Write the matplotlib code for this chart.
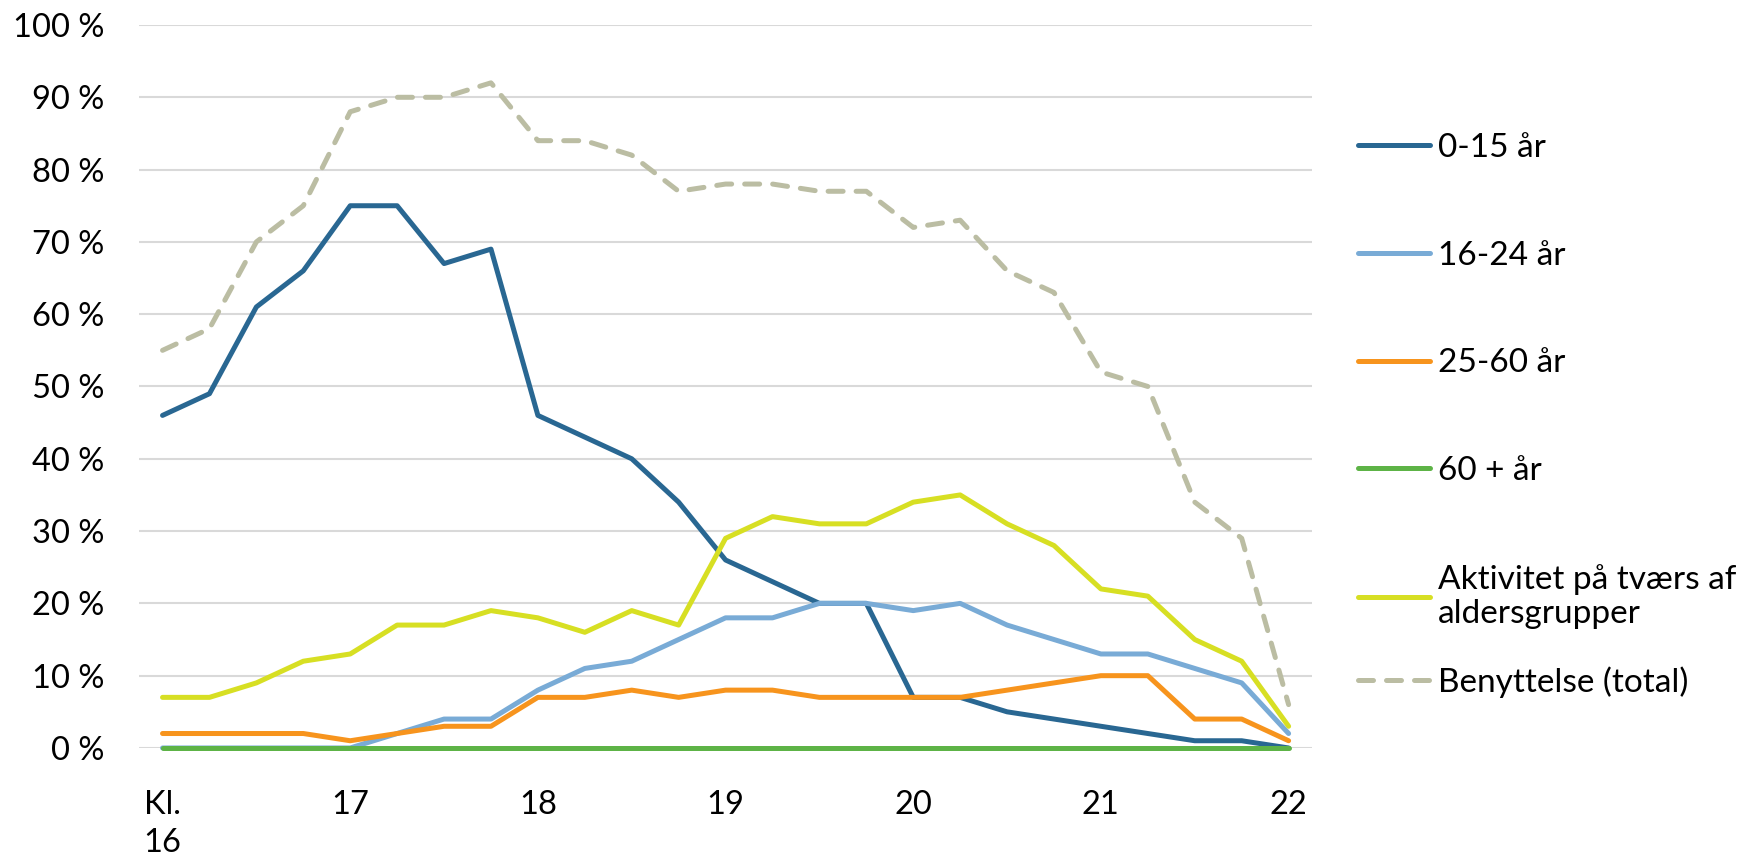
import matplotlib.pyplot as plt
import numpy as np

# Font close to Calibri
plt.rcParams['font.family'] = ['Lato', 'DejaVu Sans']

# Time slots: every 15 min from 16:00 to 22:00
tider = ['16:00', '16:15', '16:30', '16:45', '17:00', '17:15', '17:30', '17:45',
         '18:00', '18:15', '18:30', '18:45', '19:00', '19:15', '19:30', '19:45',
         '20:00', '20:15', '20:30', '20:45', '21:00', '21:15', '21:30', '21:45', '22:00']
tick_labels = ['Kl.\n16', '17', '18', '19', '20', '21', '22']

aar_0_15 = [46, 49, 61, 66, 75, 75, 67, 69, 46, 43, 40, 34, 26, 23, 20, 20, 7, 7, 5, 4, 3, 2, 1, 1, 0]
aar_16_24 = [0, 0, 0, 0, 0, 2, 4, 4, 8, 11, 12, 15, 18, 18, 20, 20, 19, 20, 17, 15, 13, 13, 11, 9, 2]
aar_25_60 = [2, 2, 2, 2, 1, 2, 3, 3, 7, 7, 8, 7, 8, 8, 7, 7, 7, 7, 8, 9, 10, 10, 4, 4, 1]
aar_60_plus = [0] * 25
aktivitet = [7, 7, 9, 12, 13, 17, 17, 19, 18, 16, 19, 17, 29, 32, 31, 31, 34, 35, 31, 28, 22, 21, 15, 12, 3]
benyttelse = [55, 58, 70, 75, 88, 90, 90, 92, 84, 84, 82, 77, 78, 78, 77, 77, 72, 73, 66, 63, 52, 50, 34, 29, 6]

x = np.arange(len(tider))

fig = plt.figure(figsize=(17.45, 8.56), dpi=100)
ax = fig.add_axes([0.0797, 0.1262, 0.6722, 0.8446])

lw = 3.6
kw = dict(lw=lw, solid_capstyle='round', clip_on=False)
l1, = ax.plot(x, aar_0_15, color='#296792', label='0-15 år', **kw)
l2, = ax.plot(x, aar_16_24, color='#79abd6', label='16-24 år', **kw)
l3, = ax.plot(x, aar_25_60, color='#f7941d', label='25-60 år', **kw)
l4, = ax.plot(x, aar_60_plus, color='#5db346', label='60 + år', **kw)
l5, = ax.plot(x, aktivitet, color='#d7df23', label='Aktivitet på tværs af\naldersgrupper', **kw)
l6, = ax.plot(x, benyttelse, color='#bbbda3', lw=lw, dashes=(3, 2.6), dash_capstyle='round',
              clip_on=False, label='Benyttelse (total)')

ax.set_xlim(-0.5, 24.5)
ax.set_ylim(0, 100)
ax.set_yticks(np.arange(0, 101, 10))
ax.set_yticklabels([f'{v} %' for v in range(0, 101, 10)])
ax.set_xticks(x[::4])
ax.set_xticklabels(tick_labels, multialignment='left', linespacing=1.35)

ax.grid(axis='y', color='#d9d9d9', lw=1.5)
ax.set_axisbelow(True)
for s in ax.spines.values():
    s.set_visible(False)
ax.tick_params(axis='both', length=0, labelsize=23.5, colors='black')
ax.tick_params(axis='y', pad=25)
ax.tick_params(axis='x', pad=30)

# legend: Excel keeps the wrapped entry at normal spacing, so the last entry sits in its own box
leg_kw = dict(loc='upper left', frameon=False, fontsize=24, handlelength=2.15,
              handletextpad=0.24, labelspacing=2.33, borderpad=0, borderaxespad=0)
fig.legend(handles=[l1, l2, l3, l4, l5], bbox_to_anchor=(0.7785, 0.8446), **leg_kw)
fig.legend(handles=[l6], bbox_to_anchor=(0.7785, 0.222), **leg_kw)

fig.savefig('out.png', dpi=100)
